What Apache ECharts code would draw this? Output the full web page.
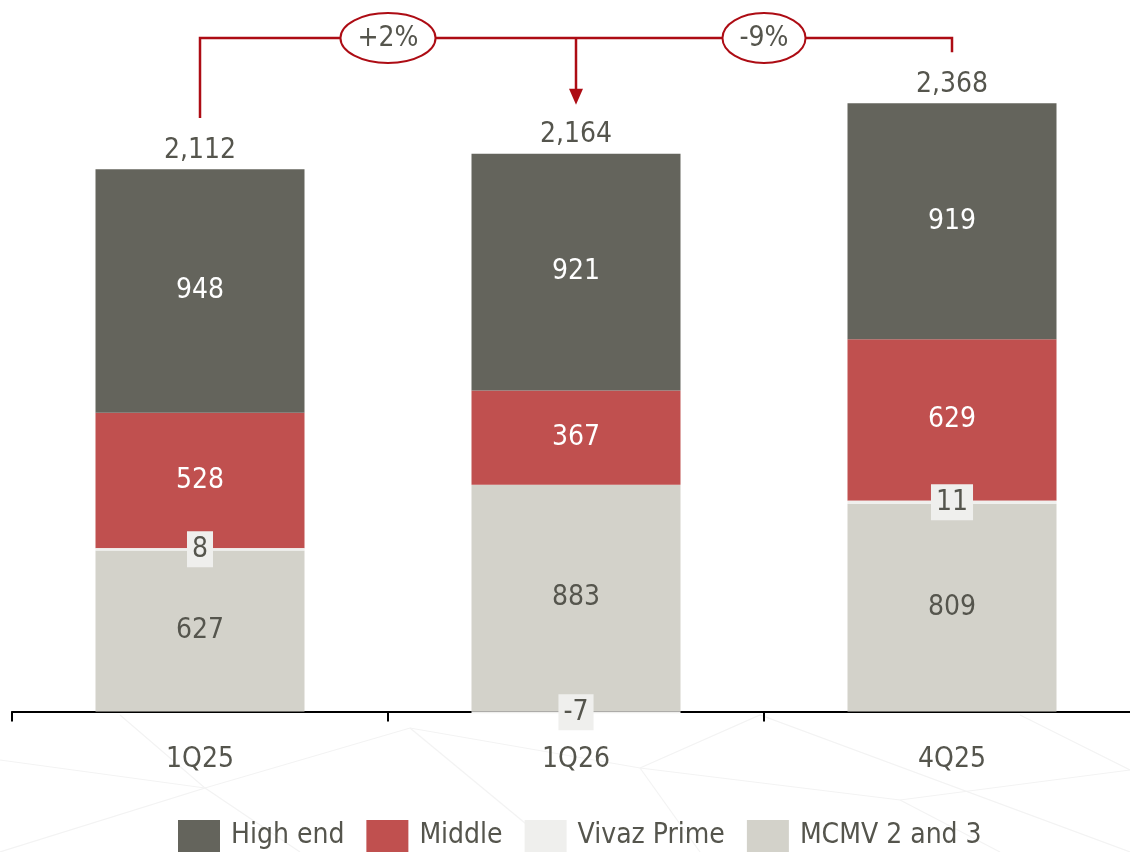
<!DOCTYPE html>
<html>
<head>
<meta charset="utf-8">
<script src="https://cdn.jsdelivr.net/npm/echarts@6/dist/echarts.min.js"></script>
<style>
  html, body { margin: 0; padding: 0; background: #fff; overflow: hidden; }
  #main { width: 1130px; height: 880px; }
</style>
</head>
<body>
<div id="main"></div>
<script>
const categories = ['1Q25', '1Q26', '4Q25'];
const highEnd = [948, 921, 919];
const middle = [528, 367, 629];
const vivazPrime = [8, -7, 11];
const mcmv = [627, 883, 809];
const totals = [2112, 2164, 2368];
const growthLabels = ['+2%', '-9%'];

const FONT = 'DejaVu Sans Condensed';
const FS = 28;
const TEXT = '#55554d';
const RED_LINE = '#ad0c14';

const chart = echarts.init(document.getElementById('main'));

function segLabel(color, extra) {
    return Object.assign({
        show: true,
        position: 'inside',
        color: color,
        fontFamily: FONT,
        fontSize: FS,
    }, extra || {});
}

const option = {
    animation: false,
    backgroundColor: '#fff',
    textStyle: { fontFamily: FONT },
    // height 880 so the legend can run off the bottom of the 852px shot
    grid: { left: 12, width: 1128, top: 18, bottom: 166, outerBoundsMode: 'none' },
    legend: {
        left: 178,
        top: 820,
        padding: 0,
        itemWidth: 42,
        itemHeight: 32,
        itemGap: 22,
        icon: 'rect',
        data: ['High end', 'Middle', 'Vivaz Prime', 'MCMV 2 and 3'],
        textStyle: { color: TEXT, fontSize: FS, fontFamily: FONT, padding: [6, 0, 0, 6] },
    },
    xAxis: {
        type: 'category',
        data: categories,
        axisLine: { lineStyle: { color: '#000', width: 2 } },
        axisTick: { show: true, length: 10, lineStyle: { color: '#000', width: 2 } },
        axisLabel: { color: TEXT, fontSize: FS, fontFamily: FONT, margin: 32 },
    },
    yAxis: { type: 'value', min: -10, max: 2700, show: false, splitLine: { show: false } },
    series: [
        {
            name: 'MCMV 2 and 3', type: 'bar', stack: 'total', barWidth: 209,
            data: mcmv, itemStyle: { color: '#d3d2ca' },
            label: segLabel(TEXT),
        },
        {
            name: 'Vivaz Prime', type: 'bar', stack: 'total',
            data: vivazPrime, itemStyle: { color: '#efefed' },
            label: segLabel(TEXT, { backgroundColor: '#efefed', padding: [5, 5, 3, 5] }),
            z: 4,
        },
        {
            name: 'Middle', type: 'bar', stack: 'total',
            data: middle, itemStyle: { color: '#c0504f' },
            label: segLabel('#fff'),
        },
        {
            name: 'High end', type: 'bar', stack: 'total',
            data: highEnd, itemStyle: { color: '#64645c' },
            label: segLabel('#fff'),
        },
        {
            // zero-height bar on top of the stack, only carries the total label
            name: 'Total', type: 'bar', stack: 'total',
            data: totals.map(() => 0),
            itemStyle: { color: 'transparent' },
            label: {
                show: true, position: 'top', distance: 5,
                color: TEXT, fontSize: FS, fontFamily: FONT,
                formatter: p => totals[p.dataIndex].toLocaleString('en-US'),
            },
            silent: true,
        },
    ],
};

chart.setOption(option);

// comparison bracket above the bars
function measure(text) {
    const ctx = document.createElement('canvas').getContext('2d');
    ctx.font = FS + 'px "' + FONT + '"';
    return ctx.measureText(text).width;
}

const px = categories.map((c, i) => chart.convertToPixel({ xAxisIndex: 0, yAxisIndex: 0 }, [i, totals[i]]));
const lineY = 38;
const gap = 51;
const graphic = [];

// faint background lines
const bgLines = [
    [[0, 760], [205, 788], [410, 728], [640, 768], [900, 800], [1130, 770]],
    [[0, 852], [205, 788], [120, 715]],
    [[410, 728], [560, 852]],
    [[640, 768], [760, 715], [1130, 852]],
    [[900, 800], [1000, 852]],
    [[205, 788], [300, 852]],
    [[640, 768], [700, 852]],
    [[1130, 770], [1020, 715]],
];
bgLines.forEach(pts => graphic.push({
    type: 'polyline', z: -10, silent: true,
    shape: { points: pts },
    style: { stroke: '#f3f3f3', lineWidth: 1.2, fill: null },
}));

graphic.push({
    type: 'polyline', z: 100,
    shape: { points: [[px[0][0], px[0][1] - gap], [px[0][0], lineY], [px[2][0], lineY], [px[2][0], px[2][1] - gap]] },
    style: { stroke: RED_LINE, lineWidth: 2.5, fill: null },
});
const tipY = px[1][1] - gap;
graphic.push({
    type: 'line', z: 100,
    shape: { x1: px[1][0], y1: lineY, x2: px[1][0], y2: tipY - 14 },
    style: { stroke: RED_LINE, lineWidth: 2.5 },
});
graphic.push({
    type: 'polygon', z: 100,
    shape: { points: [[px[1][0] - 7, tipY - 16], [px[1][0] + 7, tipY - 16], [px[1][0], tipY]] },
    style: { fill: RED_LINE },
});
growthLabels.forEach((t, i) => {
    const cx = (px[i][0] + px[i + 1][0]) / 2;
    const rx = measure(t) / 2 + 17;
    graphic.push({
        type: 'ellipse', z: 101,
        shape: { cx: cx, cy: lineY, rx: rx, ry: 25 },
        style: { fill: '#fff', stroke: RED_LINE, lineWidth: 2 },
    });
    graphic.push({
        type: 'text', z: 102, x: cx, y: lineY + 1,
        style: { text: t, fill: TEXT, font: FS + 'px "' + FONT + '"', align: 'center', verticalAlign: 'middle' },
    });
});

chart.setOption({ graphic: graphic });
</script>
</body>
</html>
